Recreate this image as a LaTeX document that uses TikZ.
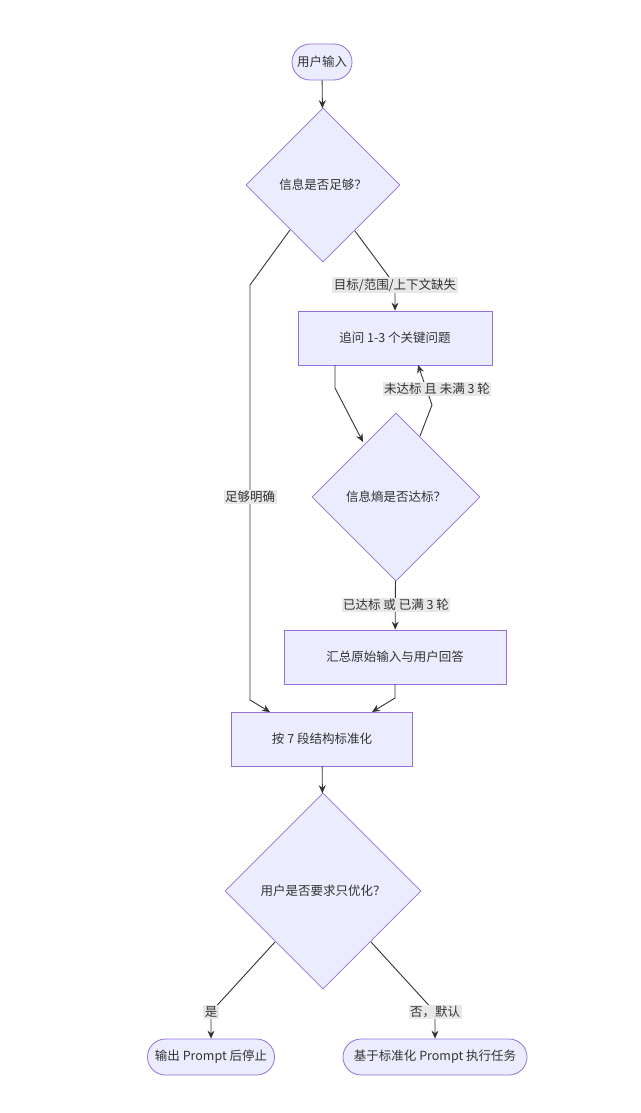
\documentclass[tikz,border=0pt]{standalone}
\usepackage{fontspec}
\setmainfont{Noto Sans CJK SC}
\usetikzlibrary{shapes.geometric,shapes.misc,arrows.meta}
\definecolor{nf}{HTML}{ECECFF}
\definecolor{ns}{HTML}{9370DB}
\definecolor{ed}{HTML}{333333}
\definecolor{lb}{HTML}{E8E8E8}
\begin{document}
\begin{tikzpicture}[x=1pt,y=-1pt,
  every node/.style={font=\fontsize{12.5}{15}\selectfont,text=ed},
  box/.style={draw=ns,fill=nf,line width=0.8pt,rectangle,anchor=center},
  pill/.style={draw=ns,fill=nf,line width=0.8pt,rounded rectangle,minimum height=36pt,inner xsep=12pt},
  dia/.style={draw=ns,fill=nf,line width=0.8pt,diamond,inner sep=0pt},
  lab/.style={fill=lb,inner sep=1.5pt},
  ar/.style={draw=ed,line width=0.9pt,-{Stealth[length=8pt,width=7pt]}}]
\useasboundingbox (0,0) rectangle (640,1113);
\node[pill,minimum width=84pt] (in) at (322,62) {用户输入};
\node[dia,minimum width=154pt,minimum height=154pt] (d1) at (323,185) {信息是否足够？};
\node[box,minimum width=194pt,minimum height=54pt] (b1) at (395,338) {追问 1-3 个关键问题};
\node[dia,minimum width=168pt,minimum height=168pt] (d2) at (396,497) {信息熵是否达标？};
\node[box,minimum width=222pt,minimum height=54pt] (b2) at (395,657) {汇总原始输入与用户回答};
\node[box,minimum width=181pt,minimum height=54pt] (b3) at (322,739) {按 7 段结构标准化};
\node[dia,minimum width=196pt,minimum height=196pt] (d3) at (323,891) {用户是否要求只优化？};
\node[pill,minimum width=151pt] (o1) at (211,1057) {输出 Prompt 后停止};
\node[pill,minimum width=208pt] (o2) at (435,1057) {基于标准化 Prompt 执行任务};
\coordinate (c1) at (395,285);
\coordinate (c2) at (250,285);
\coordinate (c3) at (250,700);
\coordinate (c4) at (335,388);
\coordinate (c5) at (432,405);
\coordinate (c6) at (395,698);
\coordinate (c7) at (211,1012);
\coordinate (c8) at (435,1012);
\draw[ar] (in) -- (d1);
\draw[ar] (355,231) -- (c1) -- (b1.north -| c1);
\draw[ar] (290,230) -- (c2) -- (c3) -- (270,712);
\draw[ar] (335,365) -- (c4) -- (363,442);
\draw[ar] (420,436) -- (c5) -- (418,365);
\draw[ar] (d2) -- (b2);
\draw[ar] (395,684) -- (c6) -- (372,712);
\draw[ar] (b3) -- (d3);
\draw[ar] (275,942) -- (c7) -- (o1);
\draw[ar] (371,942) -- (c8) -- (o2);
\node[lab] (l1) at (395,285) {目标/范围/上下文缺失};
\node[lab] (l2) at (250,497) {足够明确};
\node[lab] (l3) at (437,389) {未达标 且 未满 3 轮};
\node[lab] (l4) at (396,605) {已达标 或 已满 3 轮};
\node[lab] (l5) at (211,1012) {是};
\node[lab] (l6) at (435,1012) {否，默认};
\end{tikzpicture}
\end{document}
